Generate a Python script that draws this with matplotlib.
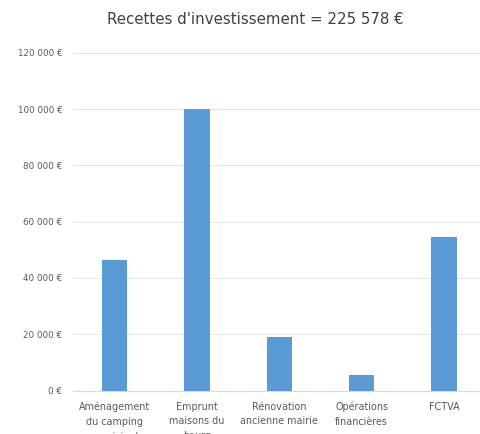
import matplotlib
matplotlib.use("Agg")
import matplotlib.pyplot as plt

categories = ["Aménagement\ndu camping\nmunicipal", "Emprunt\nmaisons du\nbourg",
              "Rénovation\nancienne mairie", "Opérations\nfinancières", "FCTVA"]
values = [46500, 100000, 19000, 5400, 54678]
yticks = [0, 20000, 40000, 60000, 80000, 100000, 120000]
ytick_labels = ["0 €", "20 000 €", "40 000 €", "60 000 €", "80 000 €", "100 000 €", "120 000 €"]
title = "Recettes d'investissement = 225 578 €"

fig = plt.figure(figsize=(4.8, 4.34), dpi=100)
ax = fig.add_axes([0.153, 0.1002, 0.858, 0.778])

ax.bar(range(len(values)), values, width=0.31, color="#5B9BD5", zorder=3)
ax.set_xlim(-0.5, len(values) - 0.5)
ax.set_ylim(0, 120000)
ax.set_yticks(yticks)
ax.set_yticklabels(ytick_labels, fontsize=6.3, color="#595959")
ax.set_xticks(range(len(values)))
ax.set_xticklabels(categories, fontsize=6.9, color="#595959", linespacing=1.6, va="top")
ax.tick_params(axis="both", length=0)
ax.tick_params(axis="y", pad=8)
ax.tick_params(axis="x", pad=8)
ax.grid(axis="y", color="#E6E6E6", linewidth=0.8, zorder=0)
for s in ["top", "right", "left"]:
    ax.spines[s].set_visible(False)
ax.spines["bottom"].set_color("#D9D9D9")

fig.text(255 / 480, 1 - 20 / 434, title, ha="center", va="center",
         fontsize=10.8, color="#404040")

fig.savefig("out.png", dpi=100)
